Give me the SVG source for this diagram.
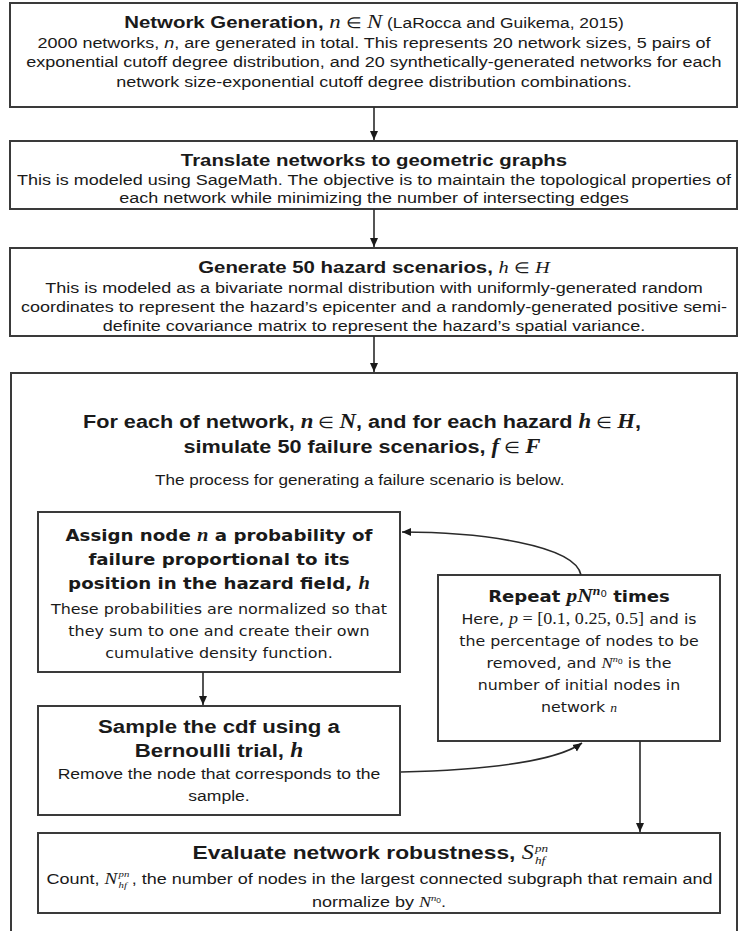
<svg xmlns="http://www.w3.org/2000/svg" width="748" height="931" viewBox="0 0 748 931">
<style>
.box{fill:#fff;stroke:#3a3a3a;stroke-width:2}
.t{font-family:"Liberation Sans",Arial,sans-serif;fill:#1a1a1a;text-anchor:middle}
.s{font-family:"Liberation Sans",Arial,sans-serif;fill:#1a1a1a}
.b{font-weight:bold}
.v{font-family:"DejaVu Sans",Verdana,sans-serif}
.m{font-family:"Liberation Serif","Times New Roman",serif;font-style:italic}
.c{fill:none;stroke:#2a2a2a;stroke-width:1.6}
</style>
<defs>
<marker id="ah" markerWidth="10" markerHeight="10" refX="9" refY="5" orient="auto" markerUnits="userSpaceOnUse">
<path d="M0,1 L9,5 L0,9 Z" fill="#1a1a1a"/>
</marker>
</defs>
<rect width="748" height="931" fill="#fff"/>

<g id="n1">
<rect class="box" x="10" y="3" width="727" height="104"/>
<g transform="matrix(1.2,0,0,1,-74.8,0)">
<text class="t" x="374" y="28" font-size="17"><tspan class="b">Network Generation, </tspan><tspan class="m" font-size="19">n</tspan><tspan font-size="15"> ∈ </tspan><tspan class="m" font-size="19">N</tspan><tspan font-size="14.5"> (LaRocca and Guikema, 2015)</tspan></text>
<text class="t" x="374" y="48" font-size="15">2000 networks, <tspan font-style="italic">n</tspan>, are generated in total. This represents 20 network sizes, 5 pairs of</text>
<text class="t" x="374" y="67" font-size="15">exponential cutoff degree distribution, and 20 synthetically-generated networks for each</text>
<text class="t" x="374" y="87" font-size="15">network size-exponential cutoff degree distribution combinations.</text>
</g>
</g>

<g id="n2">
<rect class="box" x="10" y="141" width="727" height="68"/>
<g transform="matrix(1.2,0,0,1,-74.8,0)">
<text class="t b" x="374" y="166" font-size="17">Translate networks to geometric graphs</text>
<text class="t" x="374" y="185" font-size="15">This is modeled using SageMath. The objective is to maintain the topological properties of</text>
<text class="t" x="374" y="203" font-size="15">each network while minimizing the number of intersecting edges</text>
</g>
</g>

<g id="n3">
<rect class="box" x="10" y="248" width="727" height="88"/>
<g transform="matrix(1.2,0,0,1,-74.8,0)">
<text class="t" x="374" y="273" font-size="17"><tspan class="b">Generate 50 hazard scenarios, </tspan><tspan class="m">h</tspan><tspan font-size="15"> ∈ </tspan><tspan class="m">H</tspan></text>
<text class="t" x="374" y="293" font-size="15">This is modeled as a bivariate normal distribution with uniformly-generated random</text>
<text class="t" x="374" y="312" font-size="15">coordinates to represent the hazard’s epicenter and a randomly-generated positive semi-</text>
<text class="t" x="374" y="331" font-size="15">definite covariance matrix to represent the hazard’s spatial variance.</text>
</g>
</g>

<g id="n4">
<rect class="box" x="11" y="373" width="726" height="570"/>
<g transform="matrix(1.14,0,0,1,-50.68,0)">
<text class="t b" x="362" y="428" font-size="19">For each of network, <tspan class="m" font-size="20">n</tspan><tspan font-weight="normal" font-size="16"> ∈ </tspan><tspan class="m" font-size="20">N</tspan>, and for each hazard <tspan class="m" font-size="20">h</tspan><tspan font-weight="normal" font-size="16"> ∈ </tspan><tspan class="m" font-size="20">H</tspan>,</text>
<text class="t b" x="362" y="453" font-size="19">simulate 50 failure scenarios, <tspan class="m" font-size="20">f</tspan><tspan font-weight="normal" font-size="16"> ∈ </tspan><tspan class="m" font-size="20">F</tspan></text>
<text class="t" x="360" y="485" font-size="15">The process for generating a failure scenario is below.</text>
</g>
</g>

<g id="nA">
<rect class="box" x="38" y="512" width="362" height="160"/>
<g transform="matrix(1.14,0,0,1,-30.66,0)">
<text class="t v b" x="219" y="541" font-size="16">Assign node <tspan class="m" font-size="18">n</tspan> a probability of</text>
<text class="t v b" x="219" y="565" font-size="16">failure proportional to its</text>
<text class="t v b" x="219" y="589" font-size="16">position in the hazard field, <tspan class="m" font-size="18">h</tspan></text>
<text class="t v" x="219" y="614" font-size="14">These probabilities are normalized so that</text>
<text class="t v" x="219" y="636" font-size="14">they sum to one and create their own</text>
<text class="t v" x="219" y="658" font-size="14">cumulative density function.</text>
</g>
</g>

<g id="nB">
<rect class="box" x="38" y="706" width="362" height="109"/>
<g transform="matrix(1.17,0,0,1,-37.23,0)">
<text class="t b" x="219" y="733" font-size="19">Sample the cdf using a</text>
<text class="t b" x="219" y="757" font-size="19">Bernoulli trial, <tspan class="m" font-size="20">h</tspan></text>
<text class="t" x="219" y="779" font-size="15">Remove the node that corresponds to the</text>
<text class="t" x="219" y="801" font-size="15">sample.</text>
</g>
</g>

<g id="nC">
<rect class="box" x="438" y="575" width="282" height="166"/>
<g transform="matrix(1.13,0,0,1,-75.27,0)">
<text class="t v b" x="579" y="602" font-size="16">Repeat <tspan class="m" font-size="19">pN</tspan><tspan class="m" font-size="12" dy="-7">n</tspan><tspan font-weight="normal" font-size="9" dy="2">0</tspan><tspan dy="5"> times</tspan></text>
<text class="t v" x="579" y="624" font-size="14">Here, <tspan class="m" font-size="16">p</tspan><tspan font-family="Liberation Serif" font-size="16"> = [0.1, 0.25, 0.5]</tspan> and is</text>
<text class="t v" x="579" y="646" font-size="14">the percentage of nodes to be</text>
<text class="t v" x="579" y="668" font-size="14">removed, and <tspan class="m" font-size="15">N</tspan><tspan class="m" font-size="9" dy="-6">n</tspan><tspan font-size="7" dy="2">0</tspan><tspan dy="4"> is the</tspan></text>
<text class="t v" x="579" y="690" font-size="14">number of initial nodes in</text>
<text class="t v" x="579" y="712" font-size="14">network <tspan class="m" font-size="12">n</tspan></text>
</g>
</g>

<g id="nE">
<rect class="box" x="38" y="833" width="682" height="80"/>
<g transform="matrix(1.2,0,0,1,-75.8,0)">
<text class="s b" x="508" y="859" font-size="19" text-anchor="end">Evaluate network robustness, <tspan class="m" font-weight="normal" font-size="20">S</tspan></text>
<text class="m" x="509" y="852" font-size="11" fill="#1a1a1a">pn</text>
<text class="m" x="509" y="864" font-size="11" fill="#1a1a1a">hf</text>
<text class="s" x="102" y="884" font-size="15">Count, <tspan class="m" font-size="16">N</tspan><tspan dx="12">, the number of nodes in the largest connected subgraph that remain and</tspan></text>
<text class="m" x="162" y="877" font-size="9" fill="#1a1a1a">pn</text>
<text class="m" x="162" y="888" font-size="9" fill="#1a1a1a">hf</text>
<text class="t" x="379" y="907" font-size="15">normalize by <tspan class="m" font-size="15">N</tspan><tspan class="m" font-size="9" dy="-6">n</tspan><tspan font-size="7" dy="2">0</tspan><tspan dy="4">.</tspan></text>
</g>
</g>

<g id="connectors">
<line class="c" x1="374" y1="107" x2="374" y2="140" marker-end="url(#ah)"/>
<line class="c" x1="374" y1="209" x2="374" y2="247" marker-end="url(#ah)"/>
<line class="c" x1="374" y1="336" x2="374" y2="372" marker-end="url(#ah)"/>
<line class="c" x1="203" y1="672" x2="203" y2="705" marker-end="url(#ah)"/>
<path class="c" d="M581,575 C575,545 480,532 402,532" marker-end="url(#ah)"/>
<path class="c" d="M401,772 C480,770 555,762 582,743" marker-end="url(#ah)"/>
<line class="c" x1="640" y1="741" x2="640" y2="832" marker-end="url(#ah)"/>
</g>
</svg>
